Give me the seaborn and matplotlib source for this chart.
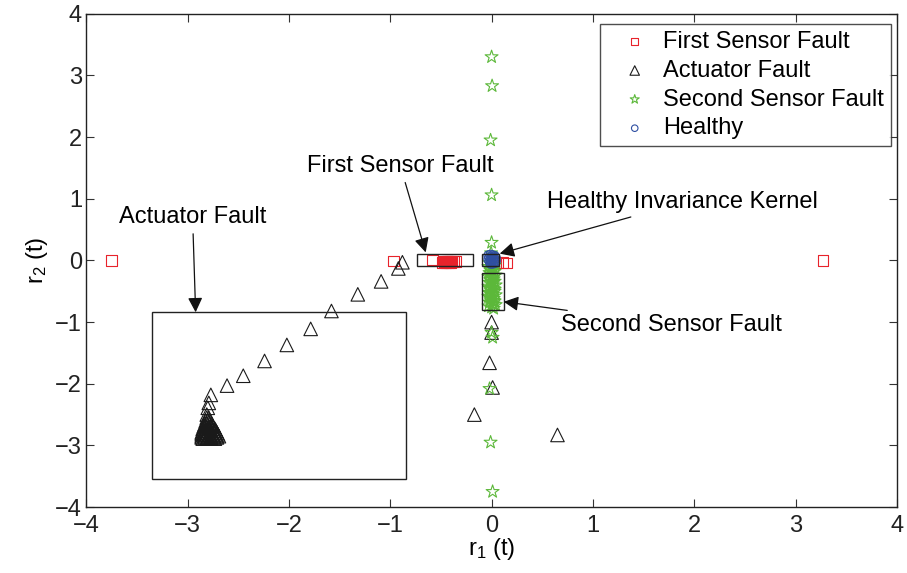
import matplotlib
matplotlib.use("Agg")
import matplotlib.pyplot as plt
import seaborn as sns
import pandas as pd

# ---- data ----
first_x = [-3.75, 3.27, -0.97, -0.585, -0.49, -0.48, -0.47, -0.46, -0.45, -0.44,
           -0.43, -0.42, -0.41, -0.40, -0.39, -0.37, -0.35, 0.06, 0.105, 0.15]
first_y = [0.0, 0.0, -0.01, 0.005, -0.03, -0.01, -0.04, -0.02, -0.03, -0.01,
           -0.02, -0.04, -0.02, -0.03, -0.01, -0.02, -0.02, -0.03, -0.03, -0.04]

act_x = [-0.88, -0.92, -1.09, -1.32, -1.58, -1.785, -2.02, -2.24, -2.45, -2.61,
         -2.77, -2.79, -2.80, -2.81,
         -2.81, -2.79,
         -2.82, -2.80, -2.78,
         -2.83, -2.81, -2.78, -2.76,
         -2.84, -2.82, -2.79, -2.77, -2.75,
         -2.85, -2.82, -2.79, -2.76, -2.73,
         -2.85, -2.83, -2.80, -2.77, -2.74, -2.72,
         -2.86, -2.83, -2.80, -2.77, -2.74, -2.71,
         -2.86, -2.84, -2.81, -2.78, -2.75, -2.72, -2.70,
         -2.86, -2.83, -2.80, -2.77, -2.74, -2.71, -2.69,
         -2.86, -2.83, -2.80, -2.77, -2.74, -2.71,
         -2.85, -2.81, -2.77, -2.73,
         0.0, 0.0, -0.02, 0.01, -0.17, 0.65]
act_y = [-0.03, -0.13, -0.34, -0.55, -0.82, -1.11, -1.37, -1.63, -1.87, -2.03,
         -2.18, -2.31, -2.39, -2.50,
         -2.55, -2.55,
         -2.60, -2.60, -2.60,
         -2.65, -2.65, -2.65, -2.65,
         -2.69, -2.69, -2.69, -2.69, -2.69,
         -2.73, -2.73, -2.73, -2.73, -2.73,
         -2.76, -2.76, -2.76, -2.76, -2.76, -2.76,
         -2.79, -2.79, -2.79, -2.79, -2.79, -2.79,
         -2.82, -2.82, -2.82, -2.82, -2.82, -2.82, -2.82,
         -2.85, -2.85, -2.85, -2.85, -2.85, -2.85, -2.85,
         -2.87, -2.87, -2.87, -2.87, -2.87, -2.87,
         -2.89, -2.89, -2.89, -2.89,
         -1.00, -1.17, -1.66, -2.06, -2.50, -2.83]

second_x = [0.0, 0.005, -0.01, 0.0, 0.0, -0.005,
            -0.02, 0.01, 0.03, -0.03, 0.0, 0.02, -0.01, 0.03, -0.02, 0.01,
            0.04, -0.03, 0.0, 0.02, -0.01, 0.03, -0.02, 0.01, 0.04, -0.03,
            0.0, 0.02, -0.01, 0.03, -0.02, 0.01, 0.04, -0.03, 0.0, 0.02,
            -0.01, 0.03, -0.02, 0.01, 0.04, -0.03, 0.0, 0.02, -0.01, 0.03,
            -0.02, 0.01, 0.03, -0.03, 0.0, 0.02, -0.01, 0.02, -0.02, 0.01,
            0.0, 0.01, -0.02, -0.01, 0.01]
second_y = [3.30, 2.83, 1.95, 1.06, 0.29, 0.12,
            -0.04, -0.06, -0.08, -0.10, -0.12, -0.14, -0.16, -0.18, -0.20, -0.22,
            -0.24, -0.26, -0.28, -0.30, -0.32, -0.34, -0.36, -0.38, -0.40, -0.42,
            -0.44, -0.46, -0.48, -0.50, -0.52, -0.54, -0.56, -0.58, -0.60, -0.62,
            -0.64, -0.66, -0.68, -0.70, -0.72, -0.74, -0.76, -0.78, -0.31, -0.47,
            -0.53, -0.41, -0.25, -0.59, -0.35, -0.65, -0.15, -0.71, -0.45, -0.55,
            -1.17, -1.25, -2.08, -2.95, -3.75]

healthy_x = [-0.03, -0.01, 0.01, 0.03, -0.02, 0.0, 0.02, 0.04, -0.03, -0.01,
             0.01, 0.03, -0.02, 0.0, 0.02, 0.04, -0.01, 0.01, 0.03, 0.0]
healthy_y = [0.08, 0.09, 0.08, 0.07, 0.05, 0.05, 0.05, 0.04, 0.02, 0.01,
             0.02, 0.01, -0.01, -0.02, -0.02, -0.01, -0.05, -0.05, -0.04, 0.0]

groups = [
    ("First Sensor Fault", first_x, first_y, "s", "#e8232b", 60),
    ("Actuator Fault", act_x, act_y, "^", "#1a1a1a", 95),
    ("Second Sensor Fault", second_x, second_y, "*", "#5cb83a", 95),
    ("Healthy", healthy_x, healthy_y, "o", "#2f4fa2", 45),
]

plt.rcParams["font.family"] = ["Liberation Sans", "DejaVu Sans"]
plt.rcParams["mathtext.fontset"] = "custom"
plt.rcParams["mathtext.rm"] = "Liberation Sans"
plt.rcParams["mathtext.it"] = "Liberation Sans"

FS = 17

fig, ax = plt.subplots(figsize=(9.07, 5.73), dpi=100)
fig.subplots_adjust(left=0.095, right=0.989, bottom=0.115, top=0.976)

for name, xs, ys, mk, col, sz in groups:
    df = pd.DataFrame({"x": xs, "y": ys})
    sns.scatterplot(data=df, x="x", y="y", marker=mk, s=sz, facecolor="none",
                    edgecolor=col, linewidth=0.8, label=name, ax=ax)

ax.set_xlim(-4, 4)
ax.set_ylim(-4, 4)
ticks = list(range(-4, 5))
tick_labels = [str(t).replace("-", "\u2212") for t in ticks]
ax.set_xticks(ticks)
ax.set_yticks(ticks)
ax.set_xticklabels(tick_labels)
ax.set_yticklabels(tick_labels)
ax.tick_params(direction="in", top=True, right=True, labelsize=FS, length=6,
               color="#333333", labelcolor="#222222")
ax.tick_params(axis="x", pad=6)
ax.tick_params(axis="y", pad=3)
for sp in ax.spines.values():
    sp.set_linewidth(1.0)
    sp.set_color("#222222")
ax.set_xlabel("r$_1$ (t)", fontsize=FS, labelpad=-1)
ax.set_ylabel("r$_2$ (t)", fontsize=FS, labelpad=4)

# highlight boxes
boxes = [(-3.35, -3.54, 2.51, 2.70), (-0.74, -0.09, 0.56, 0.20),
         (-0.09, -0.09, 0.16, 0.20), (-0.09, -0.80, 0.21, 0.60)]
for bx, by, bw, bh in boxes:
    ax.add_patch(plt.Rectangle((bx, by), bw, bh, fill=False, ec="#222222", lw=1.0))

arrow = dict(arrowstyle="-|>", color="#111111", lw=0.9, mutation_scale=22,
             shrinkA=2, shrinkB=0)
ax.annotate("Actuator Fault", xy=(-2.92, -0.84), xytext=(-2.95, 0.70),
            ha="center", va="center", fontsize=FS, arrowprops=arrow)
ax.annotate("First Sensor Fault", xy=(-0.65, 0.13), xytext=(-0.90, 1.53),
            ha="center", va="center", fontsize=FS, arrowprops=arrow)
ax.annotate("Healthy Invariance Kernel", xy=(0.08, 0.11), xytext=(0.55, 0.94),
            ha="left", va="center", fontsize=FS, arrowprops=arrow)
ax.annotate("Second Sensor Fault", xy=(0.12, -0.67), xytext=(0.68, -1.04),
            ha="left", va="center", fontsize=FS, arrowprops=arrow)

leg = ax.legend(loc="upper right", bbox_to_anchor=(0.9926, 0.9797),
                fontsize=FS, markerscale=0.7, frameon=True, fancybox=False,
                edgecolor="#222222", borderaxespad=0, labelspacing=0.29,
                handlelength=2.3, handletextpad=0.05, borderpad=0.3)
leg.get_frame().set_linewidth(1.0)

fig.savefig("out.png", dpi=100)
